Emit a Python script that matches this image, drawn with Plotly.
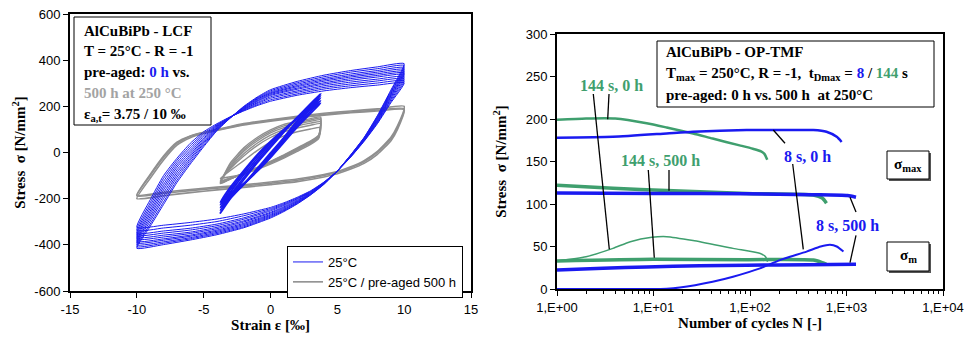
import plotly.graph_objects as go

W, H = 969, 338
BLUE = "#1a1af0"
GREEN = "#3f9f6e"
GRAY = "#8f8f8f"
GRAYTXT = "#a3a3a3"
SERIF = "Liberation Serif"
SANS = "Liberation Sans"

# ---------------- Left chart: LCF hysteresis loops (strain in permil, stress in N/mm2)
E_UP10 = [-10, -9, -8, -7, -6, -5, -4, -3, -2, -1, 0, 2, 4, 6, 8, 10]
E_DN10 = [10, 9, 8, 7, 6, 5, 4, 3, 2, 1, 0, -2, -4, -6, -8, -10]
BLUE10_UP = [
    [-415, -320, -225, -130, -50, 25, 95, 150, 200, 240, 272, 308, 335, 355, 371, 385],
    [-408, -310, -214, -120, -42, 31, 97, 150, 198, 237, 267, 302, 328, 348, 363, 377],
    [-400, -298, -200, -108, -33, 38, 100, 151, 196, 234, 262, 296, 321, 340, 355, 368],
    [-392, -287, -188, -97, -25, 44, 103, 151, 194, 231, 258, 290, 315, 333, 348, 360],
    [-385, -276, -175, -86, -16, 50, 106, 152, 192, 228, 255, 285, 309, 327, 341, 352],
    [-376, -265, -162, -75, -8, 56, 109, 152, 190, 224, 251, 279, 302, 320, 334, 345],
    [-368, -254, -150, -64, 1, 62, 112, 153, 188, 221, 247, 274, 296, 313, 327, 338],
    [-359, -242, -138, -54, 10, 69, 115, 153, 186, 216, 241, 267, 289, 305, 318, 329],
    [-350, -230, -125, -44, 20, 76, 118, 154, 184, 212, 235, 261, 282, 297, 310, 320],
    [-338, -218, -112, -34, 30, 83, 121, 154, 182, 207, 228, 254, 275, 289, 301, 311],
    [-325, -205, -100, -25, 40, 90, 125, 155, 180, 203, 222, 248, 267, 281, 292, 302],
]
BLUE10_DN = [
    [385, 270, 160, 65, -10, -80, -138, -184, -223, -256, -284, -326, -356, -379, -399, -415],
    [377, 265, 157, 64, -11, -80, -137, -183, -221, -253, -280, -322, -351, -374, -393, -408],
    [368, 260, 153, 62, -12, -80, -136, -181, -218, -250, -276, -317, -346, -369, -387, -400],
    [360, 255, 150, 60, -13, -80, -135, -180, -216, -247, -272, -312, -341, -363, -380, -392],
    [352, 250, 146, 59, -14, -80, -134, -178, -213, -243, -268, -307, -336, -358, -374, -385],
    [345, 245, 142, 57, -15, -80, -133, -176, -210, -239, -263, -301, -330, -351, -366, -376],
    [338, 240, 139, 56, -16, -80, -132, -174, -207, -235, -259, -296, -324, -345, -358, -368],
    [329, 234, 135, 54, -17, -80, -131, -172, -203, -230, -253, -289, -317, -336, -349, -359],
    [320, 228, 132, 52, -18, -80, -130, -170, -200, -226, -248, -283, -310, -328, -340, -350],
    [311, 221, 128, 50, -19, -80, -129, -168, -197, -222, -243, -274, -299, -315, -327, -338],
    [302, 215, 125, 48, -20, -80, -128, -166, -194, -218, -238, -266, -288, -303, -315, -325],
]
E_UP4 = [-3.75, -3, -2, -1, 0, 1, 2, 3, 3.75]
E_DN4 = [3.75, 3, 2, 1, 0, -1, -2, -3, -3.75]
BLUE4_UP = [
    [-262, -195, -118, -45, 22, 88, 152, 212, 255],
    [-250, -185, -108, -36, 30, 92, 152, 206, 246],
    [-238, -172, -96, -26, 38, 96, 150, 200, 236],
    [-226, -160, -86, -16, 44, 98, 148, 192, 224],
    [-216, -150, -78, -10, 48, 100, 146, 186, 214],
]
BLUE4_DN = [
    [255, 205, 138, 65, -2, -70, -138, -200, -262],
    [246, 198, 132, 60, -8, -74, -138, -195, -250],
    [236, 188, 124, 54, -14, -78, -138, -188, -238],
    [224, 178, 116, 48, -18, -80, -136, -180, -226],
    [214, 170, 110, 44, -22, -82, -134, -174, -216],
]
G_UP10 = [-10, -9, -8, -7, -6, -5, -4, -2, 0, 2, 4, 6, 8, 10]
G_DN10 = [10, 9.5, 9, 8, 7, 6, 5, 4, 2, 0, -2, -4, -6, -8, -10]
GRAY10_UP = [
    [-185, -95, -15, 45, 72, 88, 100, 125, 142, 157, 170, 180, 189, 200],
    [-188, -100, -22, 40, 70, 86, 98, 122, 139, 153, 165, 175, 184, 190],
    [-200, -112, -32, 32, 64, 82, 95, 119, 136, 150, 162, 172, 180, 186],
]
GRAY10_DN = [
    [200, 115, 65, 5, -35, -62, -82, -95, -115, -128, -140, -150, -160, -172, -185],
    [190, 108, 58, 0, -40, -66, -86, -100, -120, -133, -145, -155, -165, -177, -188],
    [186, 100, 50, -8, -47, -72, -92, -106, -126, -139, -151, -162, -174, -187, -200],
]
G_UP4 = [-3.75, -3, -2, -1, 0, 1, 2, 3, 3.75]
G_DN4 = [3.75, 3.6, 3, 2, 1, 0, -1, -2, -3, -3.75]
GRAY4_UP = [
    [-135, -45, 20, 65, 98, 122, 135, 147, 154],
    [-132, -52, 12, 58, 92, 115, 129, 141, 148],
    [-130, -60, 5, 50, 85, 108, 123, 135, 142],
    [-126, -65, -5, 40, 75, 99, 115, 127, 133],
    [-122, -70, -15, 30, 65, 90, 106, 118, 125],
    [-112, -78, -35, 8, 45, 72, 90, 102, 108],
]
GRAY4_DN = [
    [154, 75, 50, 20, -10, -38, -65, -90, -115, -135],
    [148, 72, 47, 17, -13, -40, -67, -91, -114, -132],
    [142, 70, 45, 15, -15, -42, -68, -92, -113, -130],
    [133, 67, 42, 12, -18, -44, -69, -92, -111, -126],
    [125, 65, 40, 10, -20, -46, -70, -92, -110, -122],
    [108, 60, 35, 5, -24, -50, -73, -93, -105, -112],
]
LEFT_X_TICKS = [-15, -10, -5, 0, 5, 10, 15]
LEFT_Y_TICKS = [-600, -400, -200, 0, 200, 400, 600]

# ---------------- Right chart: OP-TMF stress vs cycles
N_G_MAX_0 = [1, 2, 4, 8.5, 13.7, 25.7, 41, 78, 107, 130, 141, 151]
S_G_MAX_0 = [199, 200.5, 200.5, 195, 190, 183, 177, 169, 165, 162, 159, 152]
N_B_MAX_0 = [1, 3.8, 13.7, 25.7, 92, 200, 452, 620, 792, 890]
S_B_MAX_0 = [178, 179, 183, 185, 187, 187, 187, 185, 179, 173]
N_G_MAX_500 = [1, 3.8, 13.7, 92, 452, 560, 620]
S_G_MAX_500 = [122, 118.5, 116, 112.5, 110.5, 107, 101]
N_B_MAX_500 = [1, 10, 92, 452, 1025, 1254]
S_B_MAX_500 = [113, 112.5, 112, 111, 110, 108]
N_G_M_0 = [1, 2, 3.8, 5.75, 9.6, 13.7, 25.7, 66.7, 126, 145, 152]
S_G_M_0 = [33, 38, 47.8, 55.7, 60.8, 61.6, 57, 47.8, 42, 38, 32]
N_G_M_500 = [1, 10, 92, 452, 560, 620]
S_G_M_500 = [33, 35, 34.5, 34, 31, 29]
N_B_M_500 = [1, 3, 8.5, 30, 92, 400, 1254]
S_B_M_500 = [22.5, 24.5, 26, 27.5, 28, 28.5, 29]
N_B_M_0 = [1, 13.7, 18.7, 41, 66.7, 127, 204, 386, 540, 675, 792, 930]
S_B_M_0 = [0, 0.3, 1.7, 8.6, 14.5, 24.3, 34, 44, 50, 52, 50, 44]
RIGHT_X_TICKS = [1, 10, 100, 1000, 10000]
RIGHT_X_LABELS = ["1,E+00", "1,E+01", "1,E+02", "1,E+03", "1,E+04"]
RIGHT_Y_TICKS = [0, 50, 100, 150, 200, 250, 300]


def px(x):
    return x / W


def py(y):
    return 1 - y / H


fig = go.Figure()


def add_loops(xu, ups, xd, dns, color, width, name, rank):
    for i, (u, d) in enumerate(zip(ups, dns)):
        fig.add_trace(go.Scatter(
            x=xu + xd[1:], y=u + d[1:], mode="lines",
            line=dict(color=color, width=width, shape="spline", smoothing=0.5),
            name=name, legendgroup=name, legendrank=rank if rank else 3,
            showlegend=(i == 0 and rank is not None),
            xaxis="x", yaxis="y", hoverinfo="skip"))


add_loops(G_UP10, GRAY10_UP, G_DN10, GRAY10_DN, GRAY, 1.6, "25°C / pre-aged 500 h", 2)
add_loops(G_UP4, GRAY4_UP, G_DN4, GRAY4_DN, GRAY, 1.4, "25°C / pre-aged 500 h", None)
add_loops(E_UP10, BLUE10_UP, E_DN10, BLUE10_DN, BLUE, 1.0, "25°C", 1)
add_loops(E_UP4, BLUE4_UP, E_DN4, BLUE4_DN, BLUE, 1.8, "25°C", None)

right_series = [
    (N_G_MAX_0, S_G_MAX_0, GREEN, 2.5),
    (N_B_MAX_0, S_B_MAX_0, BLUE, 2.5),
    (N_G_MAX_500, S_G_MAX_500, GREEN, 3.5),
    (N_B_MAX_500, S_B_MAX_500, BLUE, 3.5),
    (N_G_M_0, S_G_M_0, GREEN, 1.5),
    (N_G_M_500, S_G_M_500, GREEN, 3.5),
    (N_B_M_500, S_B_M_500, BLUE, 3.5),
    (N_B_M_0, S_B_M_0, BLUE, 2.0),
]
for n, s, c, w in right_series:
    fig.add_trace(go.Scatter(x=n, y=s, mode="lines",
                             line=dict(color=c, width=w, shape="spline", smoothing=0.6),
                             showlegend=False, xaxis="x2", yaxis="y2", hoverinfo="skip"))

axis_common = dict(showline=True, linecolor="black", linewidth=2, mirror=True,
                   ticks="outside", ticklen=5, tickwidth=1, tickcolor="black",
                   showgrid=False, zeroline=False, automargin=False,
                   tickfont=dict(family=SANS, size=13, color="black"))
title_font = dict(family=SERIF, size=15, color="black")

fig.update_layout(
    width=W, height=H, margin=dict(l=0, r=0, t=0, b=0),
    paper_bgcolor="white", plot_bgcolor="white",
    xaxis=dict(domain=[px(70), px(471)], range=[-15, 15], tickvals=LEFT_X_TICKS,
               ticktext=[str(v) for v in LEFT_X_TICKS], anchor="y",
               title=dict(text="<b>Strain ε [‰]</b>", font=title_font, standoff=4),
               **axis_common),
    yaxis=dict(domain=[py(291), py(14)], range=[-600, 600], tickvals=LEFT_Y_TICKS,
               ticktext=[str(v) for v in LEFT_Y_TICKS], anchor="x",
               title=dict(text="<b>Stress  σ [N/mm<sup>2</sup>]</b>", font=title_font, standoff=5),
               **axis_common),
    xaxis2=dict(domain=[px(557), px(943)], type="log", range=[0, 4], tickvals=RIGHT_X_TICKS,
                ticktext=RIGHT_X_LABELS, anchor="y2",
                minor=dict(ticks="outside", ticklen=3, tickcolor="black",
                           tickvals=[k * 10 ** d for d in range(4) for k in range(2, 10)]),
                title=dict(text="<b>Number of cycles N [-]</b>", font=title_font, standoff=4),
                **axis_common),
    yaxis2=dict(domain=[py(289), py(34)], range=[0, 300], tickvals=RIGHT_Y_TICKS, anchor="x2",
                title=dict(text="<b>Stress  σ [N/mm<sup>2</sup>]</b>", font=title_font, standoff=15),
                **axis_common),
    legend=dict(x=px(287), y=py(246), xanchor="left", yanchor="top",
                bordercolor="black", borderwidth=1, bgcolor="white",
                font=dict(family=SANS, size=13, color="black"), tracegroupgap=0,
                itemwidth=30),
)

shapes = []


def rect(x0, y0, x1, y1, shadow=False):
    if shadow:
        shapes.append(dict(type="rect", xref="paper", yref="paper",
                           x0=px(x0 + 2), y0=py(y1 + 2), x1=px(x1 + 2), y1=py(y0 + 2),
                           line=dict(width=0), fillcolor="#555555", layer="above"))
    shapes.append(dict(type="rect", xref="paper", yref="paper",
                       x0=px(x0), y0=py(y1), x1=px(x1), y1=py(y0),
                       line=dict(color="black", width=1), fillcolor="white", layer="above"))


rect(74, 17, 211, 125)
rect(657, 41, 934, 107)
rect(887, 151, 929, 179, shadow=True)
rect(887, 242, 929, 271, shadow=True)

leaders = [((593.3, 94), (609.3, 249.3)), ((609, 94), (607.7, 119.3)),
           ((648.3, 170), (654.3, 257.7)), ((669, 170), (669, 190.7)),
           ((773.3, 130), (785, 143.3)), ((792.7, 164), (803.3, 249.3)),
           ((850, 197.3), (856, 212)), ((856, 235.3), (850, 262.7))]
for (a, b) in leaders:
    shapes.append(dict(type="line", xref="paper", yref="paper",
                       x0=px(a[0]), y0=py(a[1]), x1=px(b[0]), y1=py(b[1]),
                       line=dict(color="black", width=1.3), layer="above"))
fig.update_layout(shapes=shapes)

ann = []


def text(x, y, s, size=15, color="black", anchor="left"):
    ann.append(dict(xref="paper", yref="paper", x=px(x), y=py(y), text=s, showarrow=False,
                    xanchor=anchor, yanchor="middle",
                    font=dict(family=SERIF, size=size, color=color)))


text(82, 31, "<b>AlCuBiPb - LCF</b>")
text(82, 51, "<b>T = 25°C - R = -1</b>")
text(82, 72, f"<b>pre-aged: <span style='color:{BLUE}'>0 h</span> vs.</b>")
text(82, 93, "<b>500 h at 250 °C</b>", color=GRAYTXT)
text(82, 115, "<b>ε<sub>a,t</sub>= 3.75 / 10 ‰</b>")

text(664, 52, "<b>AlCuBiPb - OP-TMF</b>")
text(664, 74, f"<b>T<sub>max</sub> = 250°C, R = -1,  t<sub>Dmax</sub> = "
              f"<span style='color:{BLUE}'>8</span> / <span style='color:{GREEN}'>144</span> s</b>")
text(664, 95, "<b>pre-aged: 0 h vs. 500 h  at 250°C</b>")

text(611, 85, "<b>144 s, 0 h</b>", size=16, color=GREEN, anchor="center")
text(660, 160, "<b>144 s, 500 h</b>", size=16, color=GREEN, anchor="center")
text(807, 156, "<b>8 s, 0 h</b>", size=16, color=BLUE, anchor="center")
text(847, 225, "<b>8 s, 500 h</b>", size=16, color=BLUE, anchor="center")
text(908, 165, "<b>σ<sub>max</sub></b>", size=15, anchor="center")
text(908, 256, "<b>σ<sub>m</sub></b>", size=15, anchor="center")
fig.update_layout(annotations=ann)

fig.write_html("out.html", config={"displayModeBar": False},
               post_script="document.body.style.margin='0';document.body.style.padding='0';"
                           "document.body.style.overflow='hidden';")
